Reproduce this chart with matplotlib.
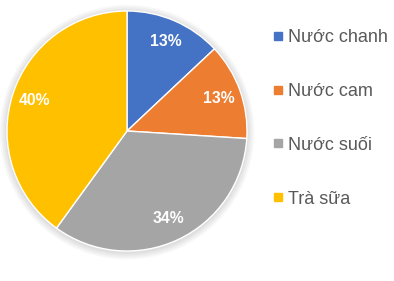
import matplotlib
matplotlib.use("Agg")
import matplotlib.pyplot as plt
from matplotlib.lines import Line2D
from matplotlib.patches import Circle

categories = ["Nước chanh", "Nước cam", "Nước suối", "Trà sữa"]
values = [13, 13, 34, 40]
colors = ["#4472C4", "#ED7D31", "#A5A5A5", "#FFC000"]

plt.rcParams['font.family'] = ['Liberation Sans', 'DejaVu Sans']

fig = plt.figure(figsize=(3.94, 2.81), dpi=100)
W, H = 394, 281
cx, cy, r = 127, 131, 120
ax = fig.add_axes([(cx - r) / W, (H - cy - r) / H, 2 * r / W, 2 * r / H])

# soft shadow
for i, a in enumerate([0.03, 0.03, 0.03, 0.03]):
    ax.add_patch(Circle((0, -0.01), 1.0 + 0.015 * (i + 1), color="black", alpha=a, lw=0, zorder=0))

wedges, texts, autotexts = ax.pie(
    values, colors=colors, startangle=90, counterclock=False,
    autopct=lambda p: f"{p:.0f}%", pctdistance=0.81,
    wedgeprops=dict(edgecolor="white", linewidth=1),
    textprops=dict(color="white", fontsize=11.3, fontweight="bold"),
)
ax.set_xlim(-1.1, 1.1)
ax.set_ylim(-1.1, 1.1)
ax.set_position([(cx - 1.1 * r) / W, (H - cy - 1.1 * r) / H, 2.2 * r / W, 2.2 * r / H])
ax.set_aspect("equal")
ax.axis("off")

handles = [Line2D([], [], marker="s", linestyle="none", markersize=6.4,
                  markerfacecolor=c, markeredgecolor=c) for c in colors]
leg = fig.legend(handles, categories, loc="upper left",
                 bbox_to_anchor=(262 / W, 1 - 20 / H), frameon=False,
                 fontsize=13, labelcolor="#595959", labelspacing=2.04,
                 handlelength=0.75, handletextpad=0.18, borderpad=0)
fig.savefig("out.png", dpi=100)
